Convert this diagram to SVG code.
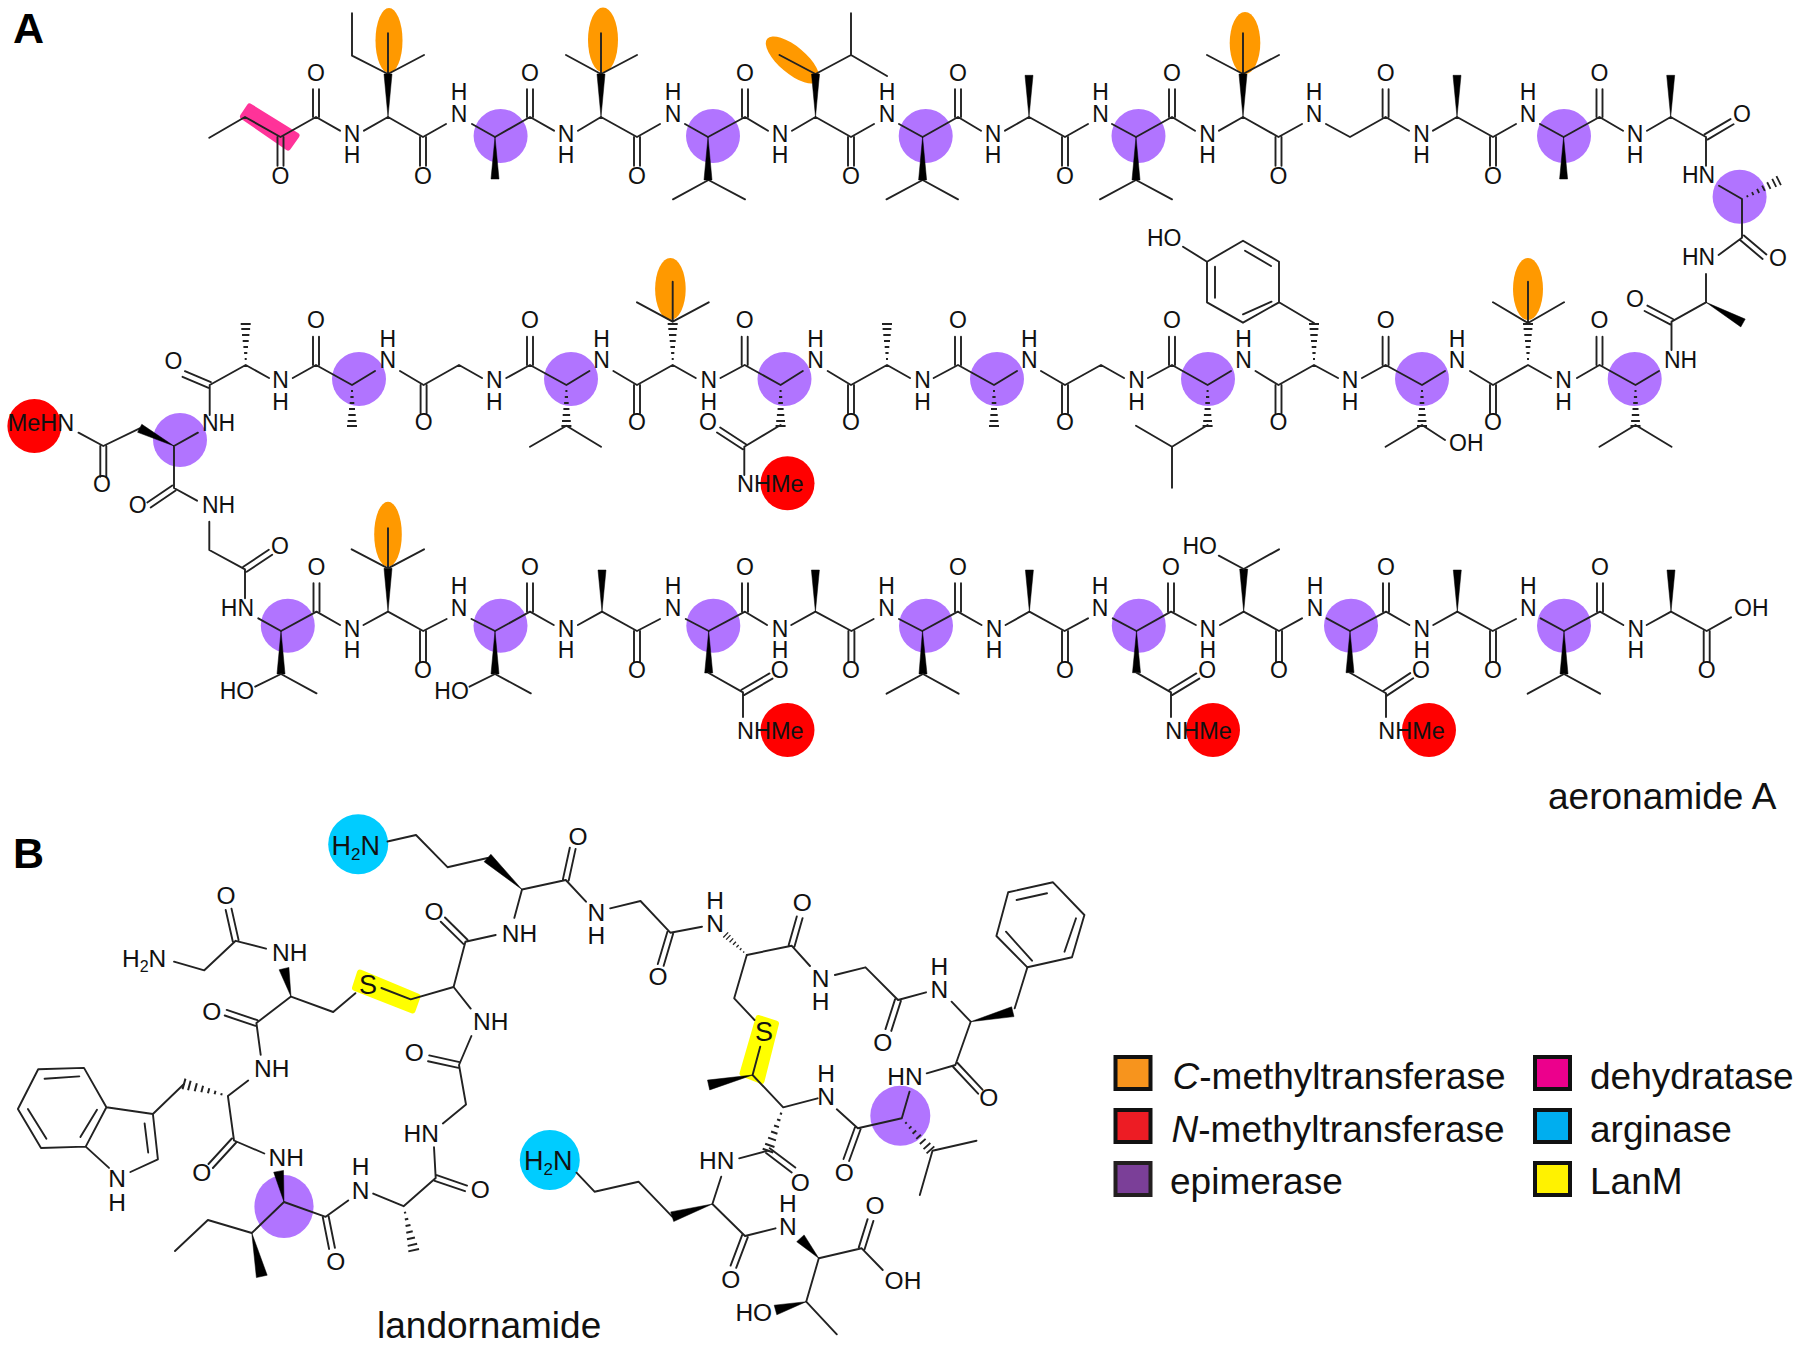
<svg xmlns="http://www.w3.org/2000/svg" width="1800" height="1347" viewBox="0 0 1800 1347">
<style>
text{font-family:"Liberation Sans",Arial,sans-serif;fill:#111}
.c{font-size:23px;text-anchor:middle}
.s{font-size:23px}
.me{font-size:23.5px}
#labels-b text{font-size:24.5px}
#labels-b text.amine{font-size:27px}
#labels-b text.su{font-size:27px}
.b{fill:none;stroke:#222;stroke-width:1.9;stroke-linecap:round;stroke-linejoin:round}
.h{fill:none;stroke:#222;stroke-width:1.8}
.w{fill:#000;stroke:#000;stroke-width:.5}
.or{fill:#ff9900}.pu{fill:#b174ff}.re{fill:#ff0000}.bl{fill:#00ccff}
.ye{fill:#ffff00;stroke:#ffff00;stroke-width:6;stroke-linejoin:round}
.big{font-size:37px}
.lg{font-size:37px}
.hd{font-size:43px;font-weight:bold;fill:#000}
.k{stroke:#111;stroke-width:4}
</style>
<defs><path id="hd" class="h" d="M-1 6H1M-1.6 12H1.6M-2.3 18H2.3M-3 24H3M-3.7 30H3.7M-4.4 36H4.4M-5 41H5"/></defs>
<rect width="1800" height="1347" fill="#fff"/>
<g id="highlights">
<ellipse class="or" cx="389" cy="40.5" rx="13.5" ry="32.5"/>
<ellipse class="or" cx="603" cy="40" rx="15" ry="32.5"/>
<ellipse class="or" cx="792.5" cy="60" rx="33" ry="13.5" transform="rotate(40 792.5 60)"/>
<ellipse class="or" cx="1245" cy="43" rx="15.3" ry="31"/>
<ellipse class="or" cx="1528" cy="289" rx="15" ry="31"/>
<ellipse class="or" cx="670.4" cy="289" rx="15.3" ry="31"/>
<ellipse class="or" cx="388" cy="534.3" rx="13.8" ry="32.5"/>
<polygon points="249.7,106.5 296.5,135.5 288,147.5 243,116.5" fill="#ff3399" stroke="#ff3399" stroke-width="6" stroke-linejoin="round"/>
<g class="pu">
<circle cx="500.6" cy="136" r="27"/><circle cx="713" cy="136" r="27"/><circle cx="925.7" cy="136" r="27"/><circle cx="1138.5" cy="136" r="27"/><circle cx="1564" cy="136" r="27"/><circle cx="1739.6" cy="196.7" r="27"/>
<circle cx="1634.7" cy="379" r="27"/><circle cx="1422" cy="379" r="27"/><circle cx="1208" cy="379" r="27"/><circle cx="997" cy="379" r="27"/><circle cx="784.5" cy="379" r="27"/><circle cx="571" cy="379" r="27"/><circle cx="359" cy="379" r="27"/><circle cx="180" cy="440" r="27"/>
<circle cx="287.8" cy="625.7" r="27"/><circle cx="500.5" cy="625.7" r="27"/><circle cx="713.3" cy="625.7" r="27"/><circle cx="926" cy="625.7" r="27"/><circle cx="1138.8" cy="625.7" r="27"/><circle cx="1351" cy="625.7" r="27"/><circle cx="1564" cy="625.7" r="27"/>
<circle cx="900.3" cy="1115.7" r="30"/><ellipse cx="284" cy="1206.6" rx="29.6" ry="31.5"/>
</g>
<g class="re">
<circle cx="34.4" cy="426" r="27"/><circle cx="787.5" cy="483.3" r="27"/><circle cx="787.5" cy="730" r="27"/><circle cx="1213" cy="730" r="27"/><circle cx="1429" cy="730" r="27"/>
</g>
<circle class="bl" cx="358.2" cy="844.2" r="30"/><circle class="bl" cx="549.8" cy="1160" r="30"/>
<polygon class="ye" points="360,972.5 417.5,996.5 412.5,1010.5 355,988"/>
<polygon class="ye" points="758.5,1018 776,1023.5 761.5,1081 742.5,1073.5"/>
</g>
<g id="bonds">
<path class="b" d="M209.3 137.7L245 117L280.5 137L316 117L340 130.7M364 130.7L388 117L423 137L446 124M472 124L495 137L530 117L554 130.7M578 130.7L601 117L637 137L660 124M685 124L708 137L745 117L768 130.7M792 130.7L815.5 117L851 137L874 124M899 124L922.6 137L958 117L981 130.7M1005 130.7L1029 117L1065 137L1088 124M1112 124L1136 137L1172 117L1195 130.7M1219 130.7L1243 117L1278.5 137L1302 124M1326 124L1350 137L1385.6 117L1409 130.7M1433 130.7L1457 117L1493 137L1516 124M1540 124L1563.6 137L1599.5 117L1623 130.7M1647 130.7L1670.7 117L1706 137V165.7"/>
<path class="b" d="M313 117V89.3M319 117V89.3M527 117V89.3M533 117V89.3M742 117V89.3M748 117V89.3M955 117V89.3M961 117V89.3M1169 117V89.3M1175 117V89.3M1382.6 117V89.3M1388.6 117V89.3M1596.5 117V89.3M1602.5 117V89.3"/>
<path class="b" d="M277.5 137V165.7M283.5 137V165.7M420 137V165.7M426 137V165.7M634 137V165.7M640 137V165.7M848 137V165.7M854 137V165.7M1062 137V165.7M1068 137V165.7M1275.5 137V165.7M1281.5 137V165.7M1490 137V165.7M1496 137V165.7"/>
<path class="b" d="M352 13.3V55.7L388 74L424 55M388 33.3V74M566 55L601 74L637 55M601 33.3V74M779.5 55L815.5 74L851 55L887 76M851 13.3V55M1207 55L1243 74L1279 55M1243 33.3V74M673 199.3L708.5 180L745 199.3M886.5 199.3L922.6 180L958 199.3M1100 199.3L1136 180L1172 199.3"/>
<path class="w" d="M388 117L384 74H392ZM495 137L491 179H499ZM601 117L597 74H605ZM708 137L704 180H712ZM815.5 117L811.5 74H819.5ZM922.6 137L918.6 180H926.6ZM1029 117L1025 75.3H1033ZM1136 137L1132 180H1140ZM1243 117L1239 74H1247ZM1457 117L1453 75.3H1461ZM1563.6 137L1559.6 179H1567.6ZM1670.7 117L1666.7 75.3H1674.7Z"/>
<path class="b" d="M1704.5 134.4L1730.5 119.1M1707.5 139.6L1733.5 124.3M1719 185.7L1742 199V237.7L1718.6 255M1740.1 240L1762.6 259M1743.9 235.4L1766.4 254.4M1706 274V302.3L1671.5 321.7V350M1670.1 324.4L1644.6 311M1672.9 319L1647.4 305.6"/>
<use href="#hd" transform="translate(1742 199) rotate(-116.6)"/>
<path class="w" d="M1706 302.3L1740.8 326.9L1745.2 319.1Z"/>
<path class="b" d="M1659 371L1635.5 385L1599.5 365L1577 378M1551 378L1528 365L1493 385L1470 371M1445 371L1422 385L1385.6 365L1362 378M1338 378L1314 365L1278.5 385L1255.5 371M1231 371L1207.6 385L1172 365L1148 378M1124 378L1101 365L1065 385L1041 371M1017 371L994 385L958 365L933.7 378M910 378L887 365L851 385L827.7 371M802.8 371L780.6 385L744.7 365L720.5 378M695.7 378L672.7 365L637 385L613.4 371M589.4 371L566.4 385L530 365L506.3 378M482 378L459 365L423.6 385L400 371M375 371L352 385L316 365L292.8 378M269 378L245.7 365L209.7 385V415M197.9 432.7L174 446V488L197 500.7M139.7 428.3L103.3 446L78.5 432.7"/>
<path class="b" d="M1596.5 365V336.7M1602.5 365V336.7M1382.6 365V336.7M1388.6 365V336.7M1169 365V336.7M1175 365V336.7M955 365V336.7M961 365V336.7M741.7 365V336.7M747.7 365V336.7M527 365V336.7M533 365V336.7M313 365V336.7M319 365V336.7M1490 385V413.3M1496 385V413.3M1275.5 385V413.3M1281.5 385V413.3M1062 385V413.3M1068 385V413.3M848 385V413.3M854 385V413.3M634 385V413.3M640 385V413.3M420.6 385V413.3M426.6 385V413.3M100.3 446V476.7M106.3 446V476.7"/>
<path class="b" d="M208.5 387.8L182.5 376.8M210.9 382.2L184.9 371.2M172.3 485.5L147.3 502.5M175.7 490.5L150.7 507.5"/>
<path class="w" d="M174 446L141.8 424.3L137.6 432.3Z"/>
<path class="b" d="M1599.5 446.7L1635.5 425L1671.5 446.7M1493 302.3L1528 323L1564 302.3M1528 281.7V323M1385.6 446.7L1422 425L1445 440M1314 323L1279 302.3M1172 487.7V446.7L1136 425.7M1207.6 425L1172 446.7M530 446.7L566.4 425.7L601 446.7M637 302.3L672.7 321.7L708.7 302.3M672.7 281.7V321.7M780.6 425L744.3 446.7V475M742.7 449.2L717 432.5M745.9 444.2L720.2 427.5"/>
<path class="b" d="M1279 302.3V261.7L1243 240.7L1207 261.7V302.3L1243 322.7ZM1271 266L1245 250.7M1215 266.7V297.7M1271.5 301.7L1243 314.3M1183 246.7L1207 261.7"/>
<use href="#hd" transform="translate(1635.5 385)"/><use href="#hd" transform="translate(1422 385)"/><use href="#hd" transform="translate(1207.6 385)"/><use href="#hd" transform="translate(994 385)"/><use href="#hd" transform="translate(780.6 385)"/><use href="#hd" transform="translate(566.4 385)"/><use href="#hd" transform="translate(352 385)"/>
<use href="#hd" transform="translate(1528 365) rotate(180)"/><use href="#hd" transform="translate(1314 365) rotate(180)"/><use href="#hd" transform="translate(887 365) rotate(180)"/><use href="#hd" transform="translate(672.7 365) rotate(180)"/><use href="#hd" transform="translate(245.7 365) rotate(180)"/>
<path class="b" d="M209.3 521.7V550L245 569.3V598.3M243.3 566.8L268.8 549.8M246.7 571.8L272.2 554.8M258.3 618.3L281 631L316.5 611.7L340 625M363.5 625L388 611.7L423.2 631L446.6 619M471.5 619L495 631L530 611.7L553.7 625M577.9 625L602 611.7L637 631L660 619M685.8 619L708.7 631L745 611.7L767 625M791.3 625L815.4 611.7L851.4 631L873.6 619M899 619L922.2 631L957.8 611.7L981.5 625M1005.6 625L1029.4 611.7L1064.6 631L1088 618.3M1112.8 618.3L1136.5 631L1171 611.7L1195.8 625M1220 625L1243.7 611.7L1279 631L1302 618.3M1326.7 618.3L1350 631L1386 611.7L1409.3 625M1433.3 625L1457.3 611.7L1492.7 631L1516 619M1540.7 618.3L1564 631L1600 611.7L1623.3 625M1646.7 625L1671 611.7L1706.7 631L1731 617.3"/>
<path class="b" d="M313.5 611.7V583.3M319.5 611.7V583.3M527 611.7V583.3M533 611.7V583.3M742 611.7V583.3M748 611.7V583.3M955 611.7V583.3M961 611.7V583.3M1168 611.7V583.3M1174 611.7V583.3M1383 611.7V583.3M1389 611.7V583.3M1597 611.7V583.3M1603 611.7V583.3M420 631V662M426 631V662M634 631V662M640 631V662M848.4 631V662M854.4 631V662M1062 631V662M1068 631V662M1276 631V662M1282 631V662M1490 631V662M1496 631V662M1703.7 631V662M1709.7 631V662"/>
<path class="w" d="M281 631L277 674H285ZM495 631L491 674H499ZM708.7 631L704.7 673H712.7ZM922.5 631L919 674H927ZM1136.5 631L1132.5 672.7H1140.5ZM1350 631L1346 672.7H1354ZM1564 631L1560 674H1568ZM388 611.7L384 568.3H392ZM602 611.7L598 570H606ZM815.4 611.7L811.4 570H819.4ZM1029.4 611.7L1025.4 570H1033.4ZM1243.7 611.7L1239.7 569H1247.7ZM1457.3 611.7L1453.3 570H1461.3ZM1671 611.7L1667 570H1675Z"/>
<path class="b" d="M255.2 686.7L281 674L316.5 693.3M351.7 549.3L388 568.3L424 549.3M388 528.3V568.3M469.5 686.7L495 674L530.8 693.3M886.6 693.7L923 674L958.6 693.7M1218.8 555.7L1243.7 569L1279 549.3M1527.7 693.7L1564 674L1600 693.7M708.7 673L743 692.3V717M1136.5 672.7L1171 692.3V717M1350 672.7L1386 693.3V717M741.5 689.7L769.5 673.4M744.5 694.9L772.5 678.6M1169.5 689.7L1196.3 673.4M1172.5 694.9L1199.3 678.6M1383.5 690.7L1410.2 673.1M1386.5 695.9L1413.2 678.3"/>
<path class="b" d="M387.5 841.5L416 835L447.5 867.2L487.5 858M522 889.5L565.8 880L586 901.7M610.2 908.3L640.5 901L670.3 932.7L702 926.7M522 889.5L514.3 917.9M562.9 879.4L569.8 847.7M568.7 880.6L575.6 848.9M667.4 931.8L657.8 964.1M673.2 933.6L663.6 965.9"/>
<path class="w" d="M522 889.5L490.9 854.3L484.1 861.7Z"/>
<use href="#hd" transform="translate(746.8 955) rotate(133.6) scale(.71)"/>
<path class="b" d="M746.8 955L791.6 945.7L810 966M834.9 975L865.5 967.3L898 1000L926 992.3M951.6 1001.7L970.7 1021.7L955.4 1065L926.7 1073.3M788.7 944.9L796.8 916.5M794.5 946.5L802.6 918.1M895.1 999.1L885.5 1029.1M900.9 1000.9L891.3 1030.9M953.2 1067L978.1 1093.7M957.6 1063L982.5 1089.7M1014.7 1008.3L1027.4 967.3"/>
<path class="w" d="M970.7 1021.7L1014 1016.6L1011.6 1006.8Z"/>
<path class="b" d="M1027.4 967.3L1072 957.3L1084.4 915L1053 882.3L1008.2 892.3L996.4 936ZM1032 960.7L1006 931.7M1064.5 951.7L1076 918.3M1016.6 900L1047 893.3"/>
<path class="b" d="M909.5 1091.7L901.8 1118.3L857.8 1128.3L836.8 1109.3M855 1127.3L843.5 1159M860.6 1129.3L849.1 1161M932.5 1150.7L976.5 1140.7M932.5 1150.7L919.8 1195M817.6 1098.3L783.2 1107.3L752.6 1075L760.2 1046.7M754.5 1020L734.2 998.3L746.8 955"/>
<use href="#hd" transform="translate(901.8 1118.3) rotate(-42.2) scale(1.04)"/>
<use href="#hd" transform="translate(783.2 1107.3) rotate(19.4) scale(1.12)"/>
<path class="w" d="M752.6 1075L709.7 1089.9L707.5 1080.1Z"/>
<path class="b" d="M739.2 1158.3L767.9 1150.7M766.1 1153.1L791.7 1172.4M769.7 1148.3L795.3 1167.6M721.2 1176.7L712.4 1204L745 1236L775.5 1228.3M742.2 1234.9L730.6 1265.6M747.8 1237.1L736.2 1267.8M672.2 1216.7L638.5 1181.7L594.5 1191.7L576.5 1172.7M818.8 1258.3L861.7 1248.3L882.7 1270M858.8 1247.4L867.6 1219.1M864.6 1249.2L873.4 1220.9M818.8 1258.3L806.2 1301.7L836.8 1334.3"/>
<path class="w" d="M712.4 1204L673.7 1221.5L670.7 1211.9ZM818.8 1258.3L804.1 1234.9L796.7 1241.7ZM806.2 1301.7L776.8 1314.8L774.2 1305.2Z"/>
<path class="b" d="M495.7 935L465.4 941.8L453.6 987L410.7 999.4L381.4 988M463.3 943.9L440.8 921.7M467.5 939.7L445 917.5M355.4 993.2L333.2 1012L291 996.6M266 948.7L235.7 940.8L204.3 970.3L174 961.7M232.8 941.5L225.7 910M238.6 940.1L231.5 908.6M291 996.6L256.4 1023L260.7 1054.9M255.4 1025.8L224.7 1015.5M257.4 1020.2L226.7 1009.9M248.2 1080.5L227.9 1096L234 1140.5L264.3 1153.5M231.8 1138.5L208.5 1164M236.2 1142.5L212.9 1168"/>
<path class="w" d="M291 996.6L288.9 967.4L279.1 969.8ZM284 1202L283.5 1170.4L273.7 1172.2ZM251.8 1233L267.2 1275.2L256.4 1277.6Z"/>
<use href="#hd" transform="translate(227.9 1096) rotate(105.3) scale(1.11)"/>
<use href="#hd" transform="translate(403.6 1206.2) rotate(-12.9) scale(1.1)"/>
<path class="b" d="M184 1084L152.9 1114L157.9 1159.3L130.4 1172M109 1167.9L85.7 1146.6L106.4 1107.3L152.9 1114M106.4 1107.3L84 1067.9L38.2 1069.2L17.9 1109L41 1148L85.7 1146.6M44.6 1078.8L79.3 1076.4M27.9 1109L46.4 1138.8M97 1109.7L80.4 1137M144.6 1123.4L148.2 1152.5"/>
<path class="b" d="M284 1202L325.7 1216.8L348.2 1200.4M284 1202L251.8 1233L207.9 1220L175 1251M322.8 1217.4L329.1 1249M328.6 1216.2L334.9 1247.8M373.2 1193.6L403.6 1206.2L435.7 1178L434 1147.3M434.7 1180.8L465 1191.2M436.7 1175.2L467 1185.6M442.9 1123.4L466 1104.5L459 1065L471.4 1036M458.4 1067.9L428 1061.2M459.6 1062.1L429.2 1055.4M470.7 1008.6L453.6 987"/>
</g>
<g id="labels">
<text class="hd" x="13" y="42.7">A</text><text class="hd" x="13" y="868">B</text>
<text class="c" x="316" y="81">O</text><text class="c" x="530" y="81">O</text><text class="c" x="745" y="81">O</text><text class="c" x="958" y="81">O</text><text class="c" x="1172" y="81">O</text><text class="c" x="1385.6" y="81">O</text><text class="c" x="1599.5" y="81">O</text>
<text class="c" x="280.5" y="184">O</text><text class="c" x="423" y="184">O</text><text class="c" x="637" y="184">O</text><text class="c" x="851" y="184">O</text><text class="c" x="1065" y="184">O</text><text class="c" x="1278.5" y="184">O</text><text class="c" x="1493" y="184">O</text>
<text class="c" x="352" y="141.7">N</text><text class="c" x="352" y="163.3">H</text><text class="c" x="566" y="141.7">N</text><text class="c" x="566" y="163.3">H</text><text class="c" x="780" y="141.7">N</text><text class="c" x="780" y="163.3">H</text><text class="c" x="993" y="141.7">N</text><text class="c" x="993" y="163.3">H</text><text class="c" x="1207.6" y="141.7">N</text><text class="c" x="1207.6" y="163.3">H</text><text class="c" x="1421.6" y="141.7">N</text><text class="c" x="1421.6" y="163.3">H</text><text class="c" x="1635" y="141.7">N</text><text class="c" x="1635" y="163.3">H</text>
<text class="c" x="459" y="100">H</text><text class="c" x="459" y="121.7">N</text><text class="c" x="673" y="100">H</text><text class="c" x="673" y="121.7">N</text><text class="c" x="887" y="100">H</text><text class="c" x="887" y="121.7">N</text><text class="c" x="1100.6" y="100">H</text><text class="c" x="1100.6" y="121.7">N</text><text class="c" x="1314" y="100">H</text><text class="c" x="1314" y="121.7">N</text><text class="c" x="1528" y="100">H</text><text class="c" x="1528" y="121.7">N</text>
<text class="c" x="1742" y="122">O</text><text class="s" x="1682" y="183.3">HN</text><text class="c" x="1778" y="266">O</text><text class="s" x="1682" y="265">HN</text><text class="c" x="1635" y="307">O</text><text class="s" x="1664" y="368.3">NH</text>
<text class="c" x="1599.5" y="328.3">O</text><text class="c" x="1385.6" y="328.3">O</text><text class="c" x="1172" y="328.3">O</text><text class="c" x="958" y="328.3">O</text><text class="c" x="744.7" y="328.3">O</text><text class="c" x="530" y="328.3">O</text><text class="c" x="316" y="328.3">O</text>
<text class="c" x="1493" y="430">O</text><text class="c" x="1278.5" y="430">O</text><text class="c" x="1065" y="430">O</text><text class="c" x="851" y="430">O</text><text class="c" x="637" y="430">O</text><text class="c" x="423.6" y="430">O</text><text class="c" x="102" y="492.3">O</text>
<text class="c" x="1563.6" y="388.3">N</text><text class="c" x="1563.6" y="410">H</text><text class="c" x="1350" y="388.3">N</text><text class="c" x="1350" y="410">H</text><text class="c" x="1136.5" y="388.3">N</text><text class="c" x="1136.5" y="410">H</text><text class="c" x="922.6" y="388.3">N</text><text class="c" x="922.6" y="410">H</text><text class="c" x="708.7" y="388.3">N</text><text class="c" x="708.7" y="410">H</text><text class="c" x="494.4" y="388.3">N</text><text class="c" x="494.4" y="410">H</text><text class="c" x="280.5" y="388.3">N</text><text class="c" x="280.5" y="410">H</text>
<text class="c" x="1457" y="346.7">H</text><text class="c" x="1457" y="368.3">N</text><text class="c" x="1243.6" y="346.7">H</text><text class="c" x="1243.6" y="368.3">N</text><text class="c" x="1029.4" y="346.7">H</text><text class="c" x="1029.4" y="368.3">N</text><text class="c" x="815.5" y="346.7">H</text><text class="c" x="815.5" y="368.3">N</text><text class="c" x="601.5" y="346.7">H</text><text class="c" x="601.5" y="368.3">N</text><text class="c" x="387.7" y="346.7">H</text><text class="c" x="387.7" y="368.3">N</text>
<text class="s" x="1449" y="450.7">OH</text><text class="s" x="1147" y="245.7">HO</text><text class="c" x="708" y="430">O</text><text class="me" x="737" y="491.7">NHMe</text>
<text class="c" x="173.4" y="369">O</text><text class="s" x="202" y="430.7">NH</text><text class="me" x="7.7" y="430.7">MeHN</text><text class="c" x="137.8" y="513">O</text><text class="s" x="202" y="513">NH</text>
<text class="c" x="280" y="554">O</text><text class="s" x="220.8" y="615.7">HN</text><text class="s" x="219.7" y="699">HO</text><text class="s" x="434.3" y="699">HO</text>
<text class="c" x="316.5" y="575">O</text><text class="c" x="530" y="575">O</text><text class="c" x="745" y="575">O</text><text class="c" x="958" y="575">O</text><text class="c" x="1171" y="575">O</text><text class="c" x="1386" y="575">O</text><text class="c" x="1600" y="575">O</text>
<text class="c" x="423" y="677.7">O</text><text class="c" x="637" y="677.7">O</text><text class="c" x="851" y="677.7">O</text><text class="c" x="1065" y="677.7">O</text><text class="c" x="1279" y="677.7">O</text><text class="c" x="1493" y="677.7">O</text><text class="c" x="1706.7" y="677.7">O</text>
<text class="c" x="352" y="636.7">N</text><text class="c" x="352" y="657.7">H</text><text class="c" x="566" y="636.7">N</text><text class="c" x="566" y="657.7">H</text><text class="c" x="780" y="636.7">N</text><text class="c" x="780" y="657.7">H</text><text class="c" x="994" y="636.7">N</text><text class="c" x="994" y="657.7">H</text><text class="c" x="1207.7" y="636.7">N</text><text class="c" x="1207.7" y="657.7">H</text><text class="c" x="1421.7" y="636.7">N</text><text class="c" x="1421.7" y="657.7">H</text><text class="c" x="1635.7" y="636.7">N</text><text class="c" x="1635.7" y="657.7">H</text>
<text class="c" x="459" y="594.3">H</text><text class="c" x="459" y="615.7">N</text><text class="c" x="673" y="594.3">H</text><text class="c" x="673" y="615.7">N</text><text class="c" x="886.6" y="594.3">H</text><text class="c" x="886.6" y="615.7">N</text><text class="c" x="1100" y="594.3">H</text><text class="c" x="1100" y="615.7">N</text><text class="c" x="1315" y="594.3">H</text><text class="c" x="1315" y="615.7">N</text><text class="c" x="1528.3" y="594.3">H</text><text class="c" x="1528.3" y="615.7">N</text>
<text class="c" x="779.8" y="677.7">O</text><text class="me" x="737" y="739.3">NHMe</text><text class="c" x="1207.3" y="678">O</text><text class="me" x="1165.2" y="739.3">NHMe</text><text class="c" x="1421" y="677.7">O</text><text class="me" x="1378.3" y="739.3">NHMe</text>
<text class="s" x="1182.5" y="554.3">HO</text><text class="s" x="1734" y="615.7">OH</text>
<text class="big" x="1548" y="809.3">aeronamide A</text>
</g>
<g id="labels-b">
<text class="s amine" x="331.5" y="854.5">H<tspan font-size="17" dy="5">2</tspan><tspan dy="-5">N</tspan></text>
<text class="c" x="578" y="845">O</text><text class="c" x="596.4" y="920.7">N</text><text class="c" x="596.4" y="944">H</text><text class="c" x="658" y="985">O</text><text class="c" x="715" y="909.3">H</text><text class="c" x="715" y="931.7">N</text><text class="c" x="802.3" y="911">O</text><text class="c" x="820.7" y="986.7">N</text><text class="c" x="820.7" y="1010">H</text><text class="c" x="882.7" y="1051">O</text><text class="c" x="939.3" y="975">H</text><text class="c" x="939.3" y="998.3">N</text><text class="c" x="988.7" y="1106">O</text><text class="s" x="887.3" y="1085">HN</text><text class="c" x="844.4" y="1181">O</text><text class="c" x="826" y="1082.3">H</text><text class="c" x="826" y="1105">N</text>
<text class="c su" x="764" y="1041">S</text><text class="c" x="800.4" y="1191">O</text><text class="s" x="699" y="1169.3">HN</text>
<text class="s amine" x="524" y="1170">H<tspan font-size="17" dy="5">2</tspan><tspan dy="-5">N</tspan></text>
<text class="c" x="730.8" y="1288">O</text><text class="c" x="787.8" y="1211.7">H</text><text class="c" x="787.8" y="1235">N</text><text class="c" x="875" y="1214">O</text><text class="s" x="884.6" y="1289.3">OH</text><text class="s" x="735.4" y="1320.7">HO</text>
<text class="s" x="501.8" y="941.8">NH</text><text class="c" x="434" y="920">O</text><text class="c su" x="367.9" y="993.5">S</text><text class="s" x="272" y="960.7">NH</text><text class="c" x="226" y="903.5">O</text>
<text class="s" x="122" y="966.5">H<tspan font-size="16" dy="5">2</tspan><tspan dy="-5">N</tspan></text>
<text class="c" x="211.8" y="1020">O</text><text class="s" x="254" y="1077">NH</text><text class="c" x="201.8" y="1181">O</text><text class="s" x="268.6" y="1166">NH</text><text class="c" x="117" y="1187.4">N</text><text class="c" x="117" y="1210.7">H</text>
<text class="c" x="335.7" y="1270">O</text><text class="c" x="360.7" y="1174.7">H</text><text class="c" x="360.7" y="1198.7">N</text><text class="c" x="480.4" y="1198">O</text><text class="s" x="403.6" y="1142">HN</text><text class="c" x="414.3" y="1060.5">O</text><text class="s" x="473" y="1030">NH</text>
</g>
<text class="big" x="377" y="1338.3">landornamide</text>
<g id="legend">
<rect class="k" fill="#f7941d" x="1115.5" y="1057" width="35" height="32"/>
<rect class="k" fill="#ed1c24" x="1115.5" y="1110" width="35" height="32"/>
<rect class="k" fill="#7b3f98" style="stroke:#231f20" x="1115.5" y="1163" width="35" height="32"/>
<rect class="k" fill="#ec008c" x="1535" y="1057" width="35" height="32"/>
<rect class="k" fill="#00aeef" x="1535" y="1110" width="35" height="32"/>
<rect class="k" fill="#fff200" x="1535" y="1163" width="35" height="32"/>
<text class="lg" x="1172.5" y="1089.3"><tspan font-style="italic">C</tspan>-methyltransferase</text>
<text class="lg" x="1171.5" y="1142.3"><tspan font-style="italic">N</tspan>-methyltransferase</text>
<text class="lg" x="1170" y="1194">epimerase</text>
<text class="lg" x="1590" y="1089.3">dehydratase</text>
<text class="lg" x="1590" y="1142.3">arginase</text>
<text class="lg" x="1590" y="1194">LanM</text>
</g>
</svg>
